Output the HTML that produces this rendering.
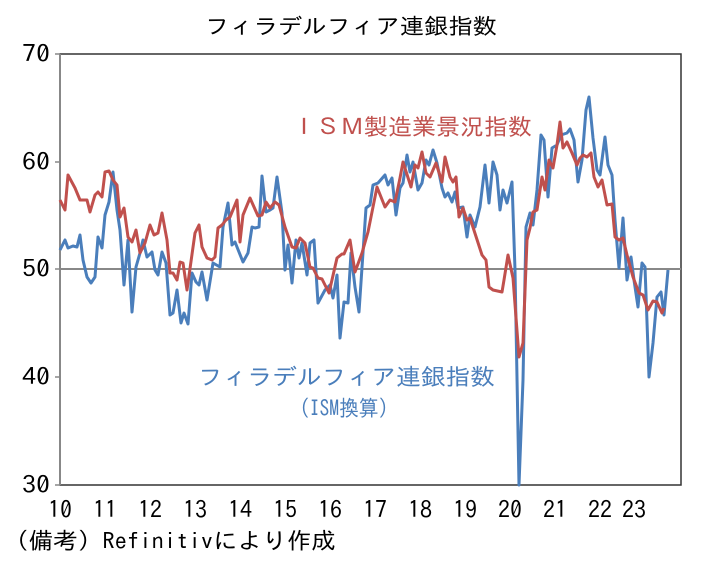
<!DOCTYPE html>
<html><head><meta charset="utf-8"><style>
body{margin:0;background:#fff;}
svg text{font-family:"IPAGothic","Liberation Sans","Noto Sans CJK JP",sans-serif;}
</style></head><body>
<svg width="702" height="556" viewBox="0 0 702 556" xmlns="http://www.w3.org/2000/svg">
<rect width="702" height="556" fill="#fff"/>
<text x="205" y="34" font-size="22" textLength="292" lengthAdjust="spacingAndGlyphs" fill="#000">フィラデルフィア連銀指数</text>
<rect x="60" y="54" width="621" height="431" fill="none" stroke="#333" stroke-width="1.5"/>
<line x1="60" y1="54" x2="60" y2="485" stroke="#888" stroke-width="2"/>
<g stroke="#888" stroke-width="1.5">
<line x1="55" y1="54" x2="60" y2="54"/><line x1="55" y1="162" x2="60" y2="162"/><line x1="55" y1="269" x2="60" y2="269"/><line x1="55" y1="377" x2="60" y2="377"/><line x1="55" y1="485" x2="60" y2="485"/>
</g>
<line x1="60" y1="269" x2="681" y2="269" stroke="#888" stroke-width="2"/>
<g font-size="24" fill="#000">
<text x="22" y="62" textLength="28" lengthAdjust="spacingAndGlyphs">70</text><text x="22" y="170" textLength="28" lengthAdjust="spacingAndGlyphs">60</text><text x="22" y="277" textLength="28" lengthAdjust="spacingAndGlyphs">50</text><text x="22" y="385" textLength="28" lengthAdjust="spacingAndGlyphs">40</text><text x="22" y="493" textLength="28" lengthAdjust="spacingAndGlyphs">30</text>
</g>
<g font-size="24" fill="#000" text-anchor="middle">
<text x="60" y="518">10</text><text x="105" y="518">11</text><text x="150" y="518">12</text><text x="195" y="518">13</text><text x="240" y="518">14</text><text x="285" y="518">15</text><text x="330" y="518">16</text><text x="375" y="518">17</text><text x="420" y="518">18</text><text x="465" y="518">19</text><text x="510" y="518">20</text><text x="555" y="518">21</text><text x="600" y="518">22</text><text x="634" y="518">23</text>
</g>
<polyline fill="none" stroke="#4a7ebb" stroke-width="3" stroke-linejoin="round" points="60,250 65,240 68,248 73,246 77,247 80,235 83,260 87,277 91,283 95,277 98,237 102,248 105,215 109,202 113,172 117,210 120,230 124,285 128,240 132,312 136,267 140,253 143,240 147,257 152,252 155,270 158,275 162,252 166,263 170,315 173,313 177,290 181,323 184,313 188,324 192,273 196,282 199,285 202,272 207,300 213,263 220,267 223,227 228,203 232,245 235,242 243,262 248,253 252,227 255,228 259,227 262,176 266,212 270,210 273,208 277,177 282,213 285,270 288,245 292,283 296,240 299,258 302,243 307,275 310,243 314,240 318,303 325,290 330,285 333,298 337,275 340,338 344,302 348,303 351,253 355,287 359,312 366,208 370,205 373,185 378,183 385,175 388,185 392,178 396,215 400,188 403,183 407,155 410,172 413,162 418,190 422,183 426,160 429,165 433,150 437,163 442,188 445,197 448,193 452,202 455,192 458,208 463,207 467,237 470,215 475,227 480,207 485,165 489,203 493,162 497,175 500,210 503,190 507,203 512,182 515,270 519,485 523,380 526,227 530,213 533,225 537,190 541,135 544,140 548,197 552,148 557,145 561,135 567,133 570,129 574,140 578,182 582,160 586,110 589,97 593,138 597,170 600,175 605,137 608,165 612,175 615,220 619,268 623,218 627,280 631,257 634,280 638,307 642,263 645,267 649,377 653,343 657,297 661,292 664,315 668,270"/>
<polyline fill="none" stroke="#c0504d" stroke-width="3" stroke-linejoin="round" points="60,200 65,210 68,175 75,188 80,200 87,200 90,212 95,195 98,192 102,197 105,172 109,171 113,180 117,185 120,217 124,208 128,237 132,242 136,230 140,253 145,243 150,225 154,235 158,233 162,213 167,240 170,273 173,273 177,280 180,262 183,263 187,290 195,233 199,225 202,247 207,258 212,260 215,257 218,228 222,225 226,220 230,217 237,200 240,242 243,215 250,198 258,216 262,215 266,202 270,208 275,202 279,205 285,227 292,247 296,248 300,238 305,243 310,267 313,268 318,278 322,279 329,293 337,258 342,254 344,254 350,240 355,272 362,253 368,232 373,207 377,187 385,207 390,200 395,202 400,178 403,162 411,187 415,165 418,168 422,152 426,173 430,177 436,163 442,182 445,157 450,177 453,182 456,177 459,217 463,208 467,220 470,218 482,255 486,260 489,287 493,290 502,292 504,280 508,255 513,278 519,357 523,343 527,240 530,228 533,212 537,210 542,177 545,190 549,160 553,168 557,145 560,122 563,148 567,142 572,153 577,165 580,158 583,155 587,157 591,153 594,177 598,187 602,180 607,205 612,204 615,237 619,240 623,238 627,255 633,277 639,293 643,295 648,310 653,301 657,302 662,313 664,308"/>
<text x="292" y="135" font-size="23" textLength="240" lengthAdjust="spacingAndGlyphs" fill="#c0504d">ＩＳＭ製造業景況指数</text>
<text x="198" y="385" font-size="23" textLength="297" lengthAdjust="spacingAndGlyphs" fill="#4a7ebb">フィラデルフィア連銀指数</text>
<text x="290" y="416" font-size="22" textLength="108" lengthAdjust="spacingAndGlyphs" fill="#4a7ebb">（ISM換算）</text>
<text x="4" y="549" font-size="23" textLength="332" lengthAdjust="spacingAndGlyphs" fill="#000">（備考）Refinitivにより作成</text>
</svg>
</body></html>
